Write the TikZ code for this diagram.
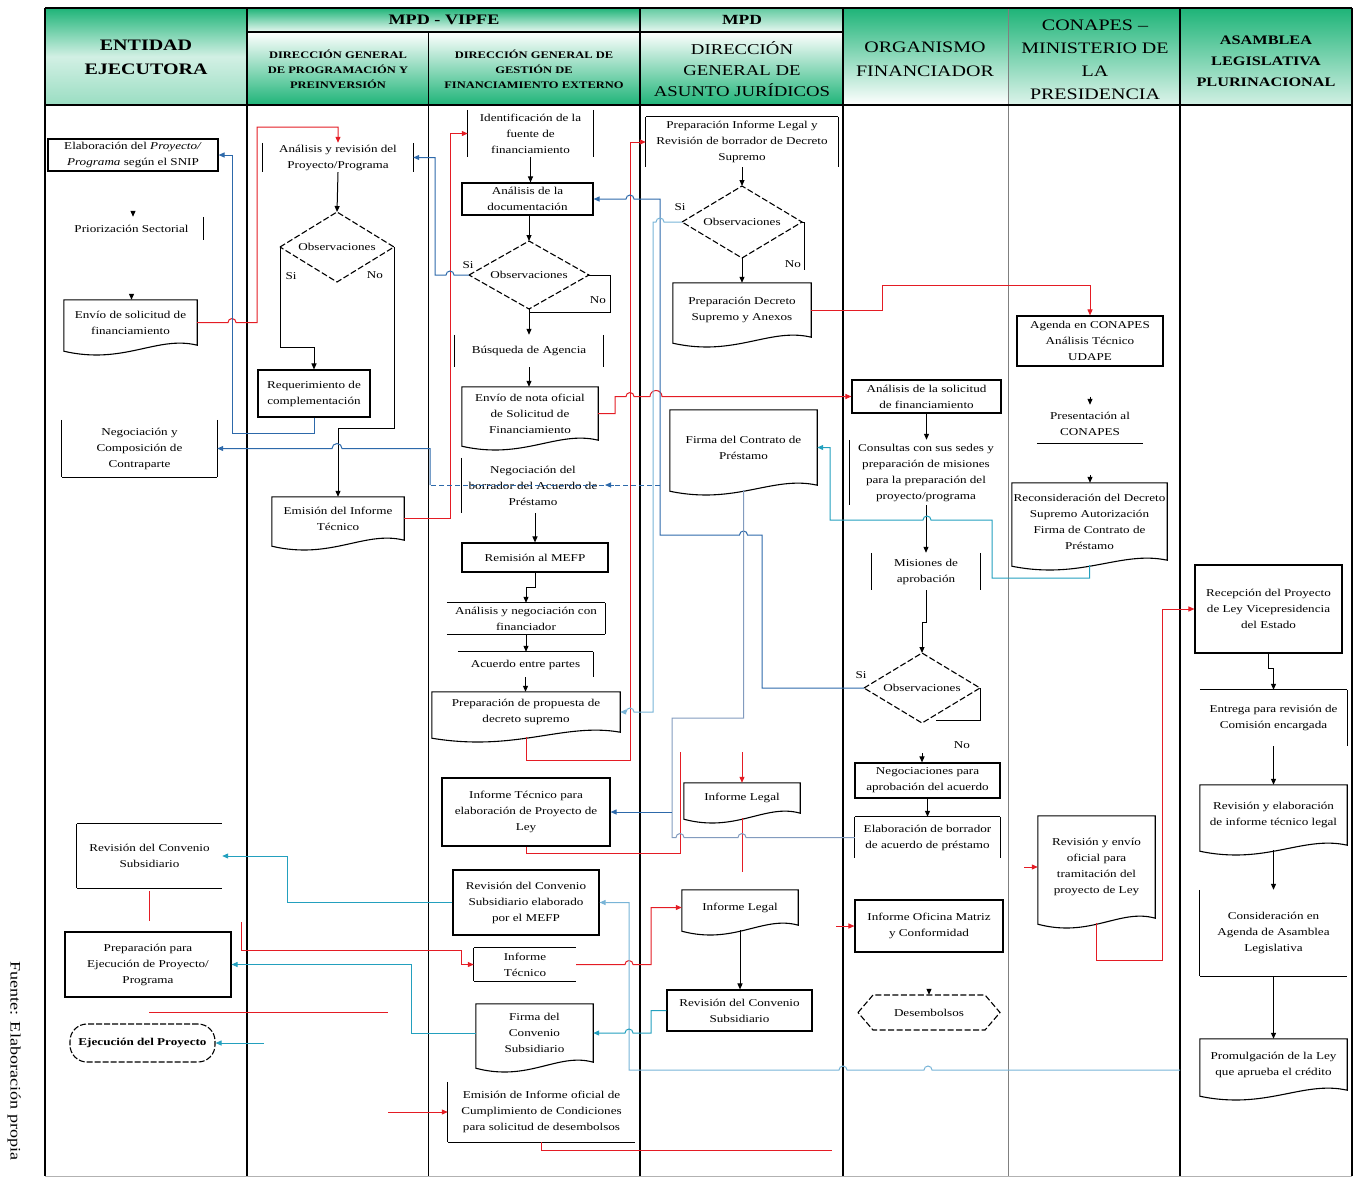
\documentclass[tikz,border=0pt]{standalone}
\usepackage{fontspec}
\setmainfont{Liberation Serif}[FakeStretch=1.25]
\usetikzlibrary{arrows.meta,calc}
\definecolor{hg}{RGB}{30,180,120}
\definecolor{cRed}{RGB}{228,28,36}
\definecolor{cBlue}{RGB}{45,105,170}
\definecolor{cCyan}{RGB}{35,160,190}
\definecolor{cLight}{RGB}{120,180,215}
\definecolor{cGray}{RGB}{130,155,190}
\newcommand\bodyfont{\fontsize{10.5}{16}\selectfont}
\tikzset{
 lbl/.style={font=\bodyfont, align=center, inner sep=1pt},
 bx/.style={draw, line width=1.1pt},
 shp/.style={line width=1.1pt},
 dshp/.style={line width=1.1pt, dash pattern=on 6pt off 2.5pt},
 conn/.style={line width=1pt},
 arr/.style={line width=1pt, -{Triangle[length=6pt,width=5pt]}},
 rc/.style={line width=1pt, draw=cRed},
 bc/.style={line width=1pt, draw=cBlue},
 cc/.style={line width=1pt, draw=cCyan},
 lc/.style={line width=1pt, draw=cLight},
 gc/.style={line width=1pt, draw=cGray},
}
\newcommand\nodeAt[7]{\node[lbl,#6,minimum width={#4-#2},minimum height={#5-#3}] (#1) at ({(#2+#4)/2},{(#3+#5)/2}) {#7};}
\newcommand\shDoc[1]{\draw[shp] let \p1=(#1.north west), \p2=(#1.south east), \n1={\x2-\x1} in (\p1) -- (\x2,\y1) -- (\x2,\y2) .. controls ({\x2-0.3*\n1},{\y2+10pt}) and ({\x1+0.45*\n1},{\y2-20pt}) .. (\x1,{\y2-6pt}) -- cycle;}
\newcommand\shL[1]{\draw[shp] (#1.north west) -- (#1.south west);}
\newcommand\shR[1]{\draw[shp] (#1.north east) -- (#1.south east);}
\newcommand\shT[1]{\draw[shp] (#1.north west) -- (#1.north east);}
\newcommand\shB[1]{\draw[shp] (#1.south west) -- (#1.south east);}
\newcommand\shDia[5]{%
 \node[lbl] (#1) at (#2,#3) {Observaciones};
 \draw[dshp] ({#2-#4},#3) -- (#2,{#3-#5}) -- ({#2+#4},#3) -- (#2,{#3+#5}) -- cycle;
 \coordinate (#1l) at ({#2-#4},#3);
 \coordinate (#1r) at ({#2+#4},#3);
 \coordinate (#1t) at (#2,{#3-#5});
 \coordinate (#1b) at (#2,{#3+#5});}
\begin{document}
\begin{tikzpicture}[x=1pt,y=-1pt]
\useasboundingbox (0,0) rectangle (1356,1178);
% ---------- header shading
\shade[top color=hg, bottom color=hg!45, middle color=hg!20] (45,8) rectangle (247,105);
\shade[top color=hg, bottom color=hg!10] (247,8) rectangle (640,32);
\shade[top color=white, bottom color=hg] (247,32) rectangle (428,105);
\shade[top color=white, bottom color=hg] (428,32) rectangle (640,105);
\shade[top color=hg!70, bottom color=hg!10] (640,8) rectangle (843,32);
\shade[top color=white, bottom color=hg] (640,32) rectangle (843,105);
\shade[top color=hg, bottom color=white] (843,8) rectangle (1008,105);
\shade[top color=hg, bottom color=hg!15] (1008,8) rectangle (1180,105);
\shade[top color=hg, bottom color=hg!20] (1180,8) rectangle (1352,105);
% ---------- lanes
\draw[line width=2.2pt] (45,8) -- (45,1176);
\draw[line width=1.6pt] (247,8) -- (247,1176);
\draw[line width=1pt] (428,32) -- (428,1176);
\draw[line width=1.4pt] (640,8) -- (640,1176);
\draw[line width=1.4pt] (843,8) -- (843,1176);
\draw[line width=0.9pt, gray] (1008,8) -- (1008,1176);
\draw[line width=1.6pt] (1180,8) -- (1180,1176);
\draw[line width=1.6pt] (1352,8) -- (1352,1176);
\draw[line width=1.8pt] (45,8) -- (1352,8);
\draw[line width=2pt] (45,105) -- (1352,105);
\draw[line width=1.2pt] (247,32) -- (843,32);
\draw[line width=0.6pt, gray!60] (45,1176) -- (1352,1176);
% ---------- header texts
\node[font=\fontsize{16}{24}\selectfont\bfseries, align=center] (hE) at (146,57) {ENTIDAD\\EJECUTORA};
\node[font=\fontsize{14.5}{16}\selectfont\bfseries] (hV) at (444,20) {MPD - VIPFE};
\node[font=\fontsize{10}{15}\selectfont\bfseries, align=center] (hP) at (338,69) {DIRECCIÓN GENERAL\\DE PROGRAMACIÓN Y\\PREINVERSIÓN};
\node[font=\fontsize{10}{15}\selectfont\bfseries, align=center] (hG) at (534,69) {DIRECCIÓN GENERAL DE\\GESTIÓN DE\\FINANCIAMIENTO EXTERNO};
\node[font=\fontsize{14}{16}\selectfont\bfseries] (hM) at (742,20) {MPD};
\node[font=\fontsize{15}{21}\selectfont, align=center] (hJ) at (742,69) {DIRECCIÓN\\GENERAL DE\\ASUNTO JURÍDICOS};
\node[font=\fontsize{16}{24}\selectfont, align=center] (hO) at (925,59) {ORGANISMO\\FINANCIADOR};
\node[font=\fontsize{16}{23}\selectfont, align=center] (hC) at (1095,60) {CONAPES –\\MINISTERIO DE\\LA\\PRESIDENCIA};
\node[font=\fontsize{13}{21}\selectfont\bfseries, align=center] (hA) at (1266,61) {ASAMBLEA\\LEGISLATIVA\\PLURINACIONAL};
\node[font=\fontsize{14.5}{16}\selectfont, rotate=-90, anchor=west] (src) at (14,958) {Fuente: Elaboración propia};
% ---------- Entidad ejecutora
\nodeAt{E1}{48}{139}{218}{171}{bx}{Elaboración del \textit{Proyecto/}\\\textit{Programa} según el SNIP}
\nodeAt{E2}{60}{217}{203}{240}{}{Priorización Sectorial} \shR{E2}
\nodeAt{E3}{64}{300}{197}{345}{}{Envío de solicitud de\\financiamiento} \shDoc{E3}
\nodeAt{E4}{62}{420}{217}{477}{}{Negociación y\\Composición de\\Contraparte} \shL{E4}\shR{E4}\shB{E4}
\nodeAt{E5}{77}{824}{222}{888}{}{Revisión del Convenio\\Subsidiario} \shT{E5}\shL{E5}\shB{E5}
\nodeAt{E6}{65}{932}{231}{997}{bx}{Preparación para\\Ejecución de Proyecto/\\Programa}
\node[lbl, draw, line width=1.1pt, dash pattern=on 6pt off 2pt, rounded corners=17pt, minimum width=145, minimum height=38] (E7) at (142.5,1043) {\textbf{Ejecución del Proyecto}};
% ---------- Programación y preinversión
\nodeAt{P1}{263}{143}{413}{172}{}{Análisis y revisión del\\Proyecto/Programa} \shL{P1}\shR{P1}
\shDia{P2}{337}{247}{57}{35}
\nodeAt{P3}{258}{370}{370}{417}{bx}{Requerimiento de\\complementación}
\nodeAt{P4}{272}{497}{404}{540}{}{Emisión del Informe\\Técnico} \shDoc{P4}
\node[lbl] (sP) at (291,276) {Si};
\node[lbl] (nP) at (375,275) {No};
% ---------- Gestion financiamiento externo
\nodeAt{G1}{468}{110}{593}{157}{}{Identificación de la\\fuente de\\financiamiento} \shL{G1}\shR{G1}
\nodeAt{G2}{462}{183}{593}{215}{bx}{Análisis de la\\documentación}
\shDia{G3}{529}{275}{60}{34}
\node[lbl] (sG) at (468,265) {Si};
\node[lbl] (nG) at (598,300) {No};
\nodeAt{G4}{455}{335}{603}{367}{}{Búsqueda de Agencia} \shL{G4}\shR{G4}
\nodeAt{G5}{462}{387}{598}{440}{}{Envío de nota oficial\\de Solicitud de\\Financiamiento} \shDoc{G5}
\nodeAt{G6}{462}{458}{604}{513}{}{Negociación del\\borrador del Acuerdo de\\Préstamo} \shL{G6}
\nodeAt{G7}{462}{543}{608}{572}{bx}{Remisión al MEFP}
\nodeAt{G8}{447}{603}{605}{634}{}{Análisis y negociación con\\financiador} \shT{G8}\shR{G8}\shB{G8}
\nodeAt{G9}{458}{652}{593}{677}{}{Acuerdo entre partes} \shT{G9}\shR{G9}
\nodeAt{G10}{432}{692}{620}{732}{}{Preparación de propuesta de\\decreto supremo} \shDoc{G10}
\nodeAt{G11}{442}{778}{610}{846}{bx}{Informe Técnico para\\elaboración de Proyecto de\\Ley}
\nodeAt{G12}{453}{870}{599}{935}{bx}{Revisión del Convenio\\Subsidiario elaborado\\por el MEFP}
\nodeAt{G13}{474}{948}{576}{981}{}{Informe\\Técnico} \shT{G13}\shL{G13}\shB{G13}
\nodeAt{G14}{476}{1004}{593}{1062}{}{Firma del\\Convenio\\Subsidiario} \shDoc{G14}
\nodeAt{G15}{448}{1082}{635}{1142}{}{Emisión de Informe oficial de\\Cumplimiento de Condiciones\\para solicitud de desembolsos} \shL{G15}\shB{G15}
% ---------- Asuntos juridicos
\nodeAt{L1}{646}{117}{838}{167}{}{Preparación Informe Legal y\\Revisión de borrador de Decreto\\Supremo} \shT{L1}\shL{L1}\shR{L1}
\shDia{L2}{742}{222}{60}{36}
\node[lbl] (sL) at (680,207) {Si};
\node[lbl] (nL) at (793,264) {No};
\nodeAt{L3}{673}{283}{811}{337}{}{Preparación Decreto\\Supremo y Anexos} \shDoc{L3}
\nodeAt{L4}{670}{410}{817}{485}{}{Firma del Contrato de\\Préstamo} \shDoc{L4}
\nodeAt{L5}{684}{783}{800}{813}{}{Informe Legal} \shDoc{L5}
\nodeAt{L6}{682}{890}{798}{925}{}{Informe Legal} \shDoc{L6}
\nodeAt{L7}{667}{990}{812}{1031}{bx}{Revisión del Convenio\\Subsidiario}
% ---------- Organismo financiador
\nodeAt{O1}{852}{380}{1001}{413}{bx}{Análisis de la solicitud\\de financiamiento}
\nodeAt{O3}{850}{440}{1002}{505}{}{Consultas con sus sedes y\\preparación de misiones\\para la preparación del\\proyecto/programa} \shL{O3}
\nodeAt{O4}{872}{553}{980}{590}{}{Misiones de\\aprobación} \shL{O4}\shR{O4}
\shDia{Od}{922}{688}{58}{35}
\node[lbl] (sO) at (861,675) {Si};
\node[lbl] (nO) at (962,745) {No};
\nodeAt{O5}{855}{763}{1000}{798}{bx}{Negociaciones para\\aprobación del acuerdo}
\nodeAt{O6}{855}{817}{1000}{858}{}{Elaboración de borrador\\de acuerdo de préstamo} \shT{O6}\shL{O6}\shR{O6}
\nodeAt{O7}{855}{900}{1003}{952}{bx}{Informe Oficina Matriz\\y Conformidad}
\nodeAt{O8}{858}{995}{1000}{1030}{}{Desembolsos}
\draw[dshp] (858,1012.5) -- (873,995) -- (985,995) -- (1000,1012.5) -- (985,1030) -- (873,1030) -- cycle;
% ---------- CONAPES
\nodeAt{C1}{1017}{316}{1163}{366}{bx}{Agenda en CONAPES\\Análisis Técnico\\UDAPE}
\nodeAt{C2}{1037}{405}{1143}{443}{}{Presentación al\\CONAPES} \shB{C2}
\nodeAt{C4}{1012}{483}{1167}{560}{}{Reconsideración del Decreto\\Supremo Autorización\\Firma de Contrato de\\Préstamo} \shDoc{C4}
\nodeAt{C5}{1038}{816}{1155}{918}{}{Revisión y envío\\oficial para\\tramitación del\\proyecto de Ley} \shDoc{C5}
% ---------- Asamblea
\nodeAt{A1}{1195}{565}{1342}{653}{bx}{Recepción del Proyecto\\de Ley Vicepresidencia\\del Estado}
\nodeAt{A2}{1200}{690}{1347}{746}{}{Entrega para revisión de\\Comisión encargada} \shT{A2}\shR{A2}
\nodeAt{A3}{1200}{785}{1347}{845}{}{Revisión y elaboración\\de informe técnico legal} \shDoc{A3}
\nodeAt{A4}{1200}{890}{1347}{976}{}{Consideración en\\Agenda de Asamblea\\Legislativa} \shL{A4}\shB{A4}
\nodeAt{A5}{1200}{1039}{1347}{1090}{}{Promulgación de la Ley\\que aprueba el crédito} \shDoc{A5}
% ---------- black connectors
\draw[arr, shorten <=40pt] (E1.south) -- (E1.south |- E2.north);
\draw[arr, shorten <=54pt] (E2.south) -- (E2.south |- E3.north);
\draw[arr] (P1.south) -- (P2t);
\draw[arr] (P2l) -- (280,347) -- (314,347) -- (P3.north);
\draw[arr] (P2r) -- (394,428) -- (338,428) -- (P4.north);
\draw[arr] (G1.south) -- (G1.south |- G2.north);
\draw[arr] (G3t |- G2.south) -- (G3t);
\draw[conn] (G3r) -- (610,275) -- (610,312) -- (529,312);
\draw[arr] (G3b) -- (G3b |- G4.north);
\draw[arr] (G4.south) -- (G4.south |- G5.north);
\draw[arr] (G7.north |- G6.south) -- (G7.north);
\draw[arr] (G7.south) -- ++(0,15) -| (G8.north);
\draw[arr] (G8.south) -- (G8.south |- G9.north);
\draw[arr] (G9.south) -- (G9.south |- G10.north);
\draw[arr] (L1.south) -- (L2t);
\draw[conn] (L2r) -- (804,222) -- (804,270);
\draw[arr] (L2b) -- (L2b |- L3.north);
\draw[arr] ([yshift=-5pt]L6.south) -- (L6.south |- L7.north);
\draw[arr] (O1.south) -- (O1.south |- O3.north);
\draw[arr] (O3.south) -- (O3.south |- O4.north);
\draw[arr] (O4.south) -- ++(0,32) -| (Odt);
\draw[conn] (Odr) -- (980,720) -- (936,720);
\draw[arr, shorten <=30pt] (Odb) -- (Odb |- O5.north);
\draw[arr] (O5.south) -- (O5.south |- O6.north);
\draw[arr, shorten <=36pt] (O7.south) -- (O7.south |- O8.north);
\draw[arr, shorten <=30pt] (C1.south) -- (C1.south |- C2.north);
\draw[arr, shorten <=32pt] (C2.south) -- (C2.south |- C4.north);
\draw[arr] (A1.south) -- ++(0,15) -| (A2.north);
\draw[arr] (A2.south) -- (A2.south |- A3.north);
\draw[arr] ([yshift=-5pt]A3.south) -- (A3.south |- A4.north);
\draw[arr] (A4.south) -- (A4.south |- A5.north);
% ---------- red connectors
\draw[arr, rc] (E3.east) -- (228,322.5) arc[start angle=180,end angle=0,radius=4pt] -- (257,322.5) -- (257,127) -- (338,127) -- (P1.north);
\draw[arr, rc] (P4.east) -- (450,518.5) -- (450,133.5) -- (G1.west);
\draw[arr, rc] (G5.east) -- (615,413.5) -- (615,396.5) -- (626,396.5) arc[start angle=180,end angle=0,radius=4pt] -- (650,396.5) arc[start angle=180,end angle=0,radius=6pt] -- (O1.west);
\draw[arr, rc] ([yshift=-5pt]G10.south) -- (526,760) -- (630,760) -- (630,142) -- (L1.west);
\draw[arr, rc] (L3.east) -- (882,310) -- (882,285) -- (1090,285) -- (C1.north);
\coordinate (rG) at (680,752);
\draw[rc] (G11.south) -- (526,853) -- (680,853) -- (rG);
\coordinate (rL5) at (742,752);
\draw[arr, rc] (rL5) -- (L5.north);
\coordinate (rL6) at (742,872);
\draw[rc] ([yshift=-5pt]L5.south) -- (rL6);
\draw[rc, shorten <=3pt, shorten >=10pt] (E5.south) -- (E5.south |- E6.north);
\coordinate (rA) at (241,922);
\draw[arr, rc] (rA) -- (241,950) -- (461,950) -- (461,964.5) -- (G13.west);
\draw[arr, rc] (G13.east) -- (625,964.5) arc[start angle=180,end angle=0,radius=4pt] -- (651,964.5) -- (651,907.5) -- (L6.west);
\coordinate (rB1) at (149,1012);
\coordinate (rB2) at (388,1012);
\draw[rc] (rB1) -- (rB2);
\coordinate (rC) at (388,1112);
\draw[arr, rc] (rC) -- (G15.west);
\coordinate (rD) at (832,1150);
\draw[rc] (G15.south) -- (541.5,1150) -- (rD);
\coordinate (rE) at (836,926);
\draw[arr, rc] (rE) -- (O7.west);
\coordinate (rF) at (1024,867);
\draw[arr, rc] (rF) -- (C5.west);
\draw[arr, rc] ([yshift=-5pt]C5.south) -- (1096.5,960) -- (1162,960) -- (1162,609) -- (A1.west);
% ---------- blue connectors
\draw[arr, bc] (P3.south) -- (314,433) -- (232,433) -- (232,155) -- (E1.east);
\draw[arr, bc] (G3l) -- (454,275) arc[start angle=0,end angle=180,radius=4pt] -- (435,275) -- (435,157.5) -- (P1.east);
\draw[arr, bc] (Odl) -- (762,688) -- (762,535) -- (747.5,535) arc[start angle=0,end angle=180,radius=4pt] -- (660,535) -- (660,199) -- (634,199) arc[start angle=0,end angle=180,radius=4pt] -- (G2.east);
\coordinate (bJ) at (660,485);
\coordinate (bK) at (430,485);
\draw[bc, dash pattern=on 5pt off 3pt] (bJ) -- (bK);
\draw[arr, bc] (614,485) -- (605,485);
\draw[arr, bc] (bK) -- (430,448.5) -- (342,448.5) arc[start angle=0,end angle=180,radius=5pt] -- (E4.east);
\draw[arr, lc] (L2l) -- (664,222) arc[start angle=0,end angle=180,radius=4pt] -- (653,222) -- (653,712) -- (634,712) arc[start angle=0,end angle=180,radius=4pt] -- (G10.east);
\draw[gc] ([yshift=-5pt]L4.south) -- (743.5,718) -- (672,718) -- (672,837.5) -- (676,837.5) arc[start angle=180,end angle=0,radius=4pt] -- (738,837.5) arc[start angle=180,end angle=0,radius=4pt] -- (O6.west);
\coordinate (bM) at (672,812);
\draw[arr, bc] (bM) -- (G11.east);
\draw[arr, cc] ([yshift=-5pt]C4.south) -- (1089.5,578) -- (992,578) -- (992,520) -- (931,520) arc[start angle=0,end angle=180,radius=4pt] -- (830,520) -- (830,447.5) -- (L4.east);
\draw[arr, cc] (G12.west) -- (287,902.5) -- (287,856) -- (E5.east);
\draw[arr, cc] (G14.west) -- (411,1033) -- (411,964.5) -- (E6.east);
\coordinate (bN) at (264,1043);
\draw[arr, cc] (bN) -- (E7.east);
\coordinate (bP) at (1180,1070);
\draw[arr, lc] (bP) -- (932,1070) arc[start angle=0,end angle=180,radius=4pt] -- (847,1070) arc[start angle=0,end angle=180,radius=4pt] -- (629,1070) -- (629,902.5) -- (G12.east);
\draw[arr, cc] (L7.west) -- (651,1010.5) -- (651,1033) -- (633,1033) arc[start angle=0,end angle=180,radius=4pt] -- (G14.east);
\end{tikzpicture}
\end{document}
